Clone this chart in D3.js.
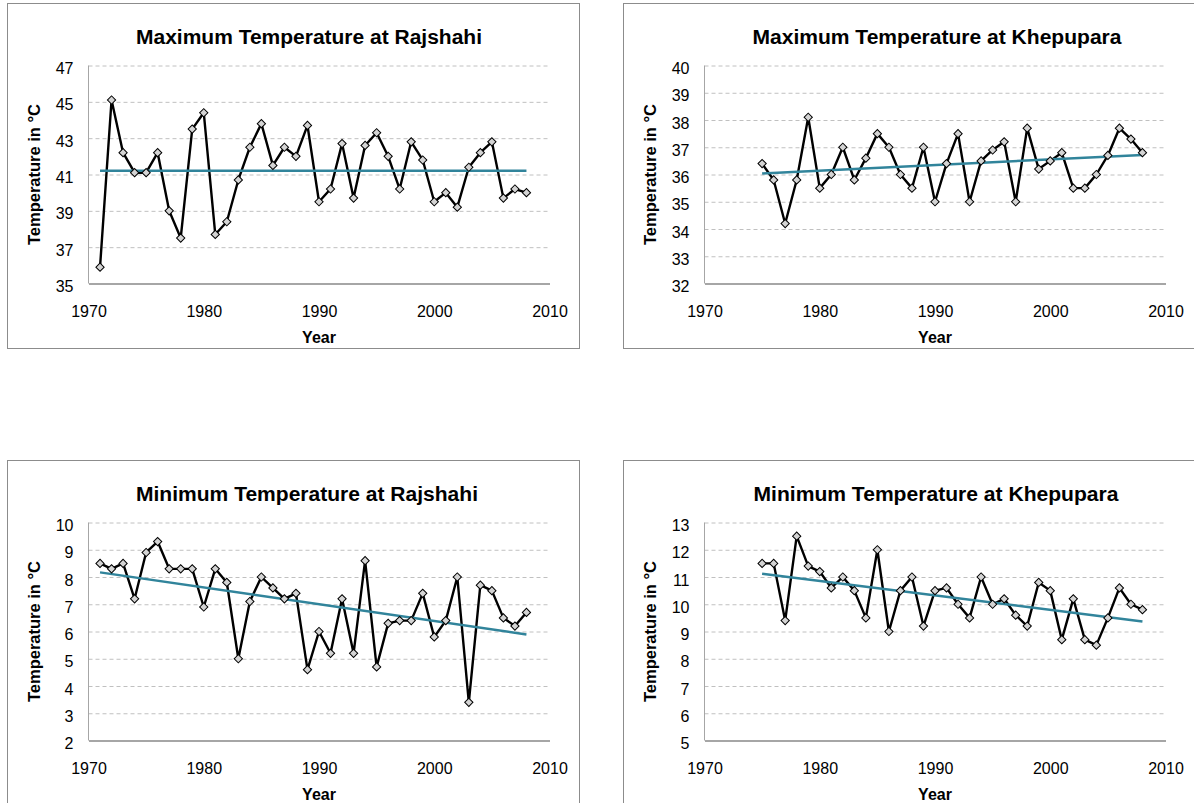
<!DOCTYPE html>
<html>
<head>
<meta charset="utf-8">
<script src="https://cdn.jsdelivr.net/npm/d3@7"></script>
<style>
  body { margin: 0; background: #fff; }
  svg { display: block; font-family: "Liberation Sans", Arial, sans-serif; }
</style>
</head>
<body>
<svg id="canvas" width="1194" height="803"></svg>
<script>
// ---- data ----
var yearsRajshahi = [1971, 1972, 1973, 1974, 1975, 1976, 1977, 1978, 1979, 1980,
  1981, 1982, 1983, 1984, 1985, 1986, 1987, 1988, 1989, 1990,
  1991, 1992, 1993, 1994, 1995, 1996, 1997, 1998, 1999, 2000,
  2001, 2002, 2003, 2004, 2005, 2006, 2007, 2008];
var yearsKhepupara = [1975, 1976, 1977, 1978, 1979, 1980,
  1981, 1982, 1983, 1984, 1985, 1986, 1987, 1988, 1989, 1990,
  1991, 1992, 1993, 1994, 1995, 1996, 1997, 1998, 1999, 2000,
  2001, 2002, 2003, 2004, 2005, 2006, 2007, 2008];

var maxRajshahi = [35.9, 45.1, 42.2, 41.1, 41.1, 42.2, 39.0, 37.5, 43.5, 44.4,
  37.7, 38.4, 40.7, 42.5, 43.8, 41.5, 42.5, 42.0, 43.7, 39.5,
  40.2, 42.7, 39.7, 42.6, 43.3, 42.0, 40.2, 42.8, 41.8, 39.5,
  40.0, 39.2, 41.4, 42.2, 42.8, 39.7, 40.2, 40.0];
var maxKhepupara = [36.4, 35.8, 34.2, 35.8, 38.1, 35.5,
  36.0, 37.0, 35.8, 36.6, 37.5, 37.0, 36.0, 35.5, 37.0, 35.0,
  36.4, 37.5, 35.0, 36.5, 36.9, 37.2, 35.0, 37.7, 36.2, 36.5,
  36.8, 35.5, 35.5, 36.0, 36.7, 37.7, 37.3, 36.8];
var minRajshahi = [8.5, 8.3, 8.5, 7.2, 8.9, 9.3, 8.3, 8.3, 8.3, 6.9,
  8.3, 7.8, 5.0, 7.1, 8.0, 7.6, 7.2, 7.4, 4.6, 6.0,
  5.2, 7.2, 5.2, 8.6, 4.7, 6.3, 6.4, 6.4, 7.4, 5.8,
  6.4, 8.0, 3.4, 7.7, 7.5, 6.5, 6.2, 6.7];
var minKhepupara = [11.5, 11.5, 9.4, 12.5, 11.4, 11.2,
  10.6, 11.0, 10.5, 9.5, 12.0, 9.0, 10.5, 11.0, 9.2, 10.5,
  10.6, 10.0, 9.5, 11.0, 10.0, 10.2, 9.6, 9.2, 10.8, 10.5,
  8.7, 10.2, 8.7, 8.5, 9.5, 10.6, 10.0, 9.8];

// linear trend lines: value at first and last year
var trendMaxRajshahi = [41.2, 41.2];
var trendMaxKhepupara = [36.04, 36.72];
var trendMinRajshahi = [8.17, 5.89];
var trendMinKhepupara = [11.12, 9.37];

var ticksMaxRajshahi = [35, 37, 39, 41, 43, 45, 47];
var ticksMaxKhepupara = [32, 33, 34, 35, 36, 37, 38, 39, 40];
var ticksMinRajshahi = [2, 3, 4, 5, 6, 7, 8, 9, 10];
var ticksMinKhepupara = [5, 6, 7, 8, 9, 10, 11, 12, 13];
var yearTicks = [1970, 1980, 1990, 2000, 2010];

var charts = [
  { title: "Maximum Temperature at Rajshahi", years: yearsRajshahi, values: maxRajshahi,
    trend: trendMaxRajshahi, ticks: ticksMaxRajshahi, fx: 7, fy: 3, fh: 345, titleX: 302, titleW: 346 },
  { title: "Maximum Temperature at Khepupara", years: yearsKhepupara, values: maxKhepupara,
    trend: trendMaxKhepupara, ticks: ticksMaxKhepupara, fx: 623, fy: 3, fh: 345, titleX: 314, titleW: 369 },
  { title: "Minimum Temperature at Rajshahi", years: yearsRajshahi, values: minRajshahi,
    trend: trendMinRajshahi, ticks: ticksMinRajshahi, fx: 7, fy: 460, fh: 400, titleX: 300, titleW: 342 },
  { title: "Minimum Temperature at Khepupara", years: yearsKhepupara, values: minKhepupara,
    trend: trendMinKhepupara, ticks: ticksMinKhepupara, fx: 623, fy: 460, fh: 400, titleX: 313, titleW: 365 }
];

var svg = d3.select("#canvas");
var plot = { left: 81.5, top: 62.5, width: 461, height: 218 };
var fontFamily = '"Liberation Sans", Arial, sans-serif';

charts.forEach(drawChart);

function drawChart(c) {
  var frame = svg.append("g")
      .attr("transform", "translate(" + c.fx + "," + c.fy + ")");

  frame.append("rect")
      .attr("x", 0.5).attr("y", 0.5)
      .attr("width", 572).attr("height", c.fh)
      .attr("fill", "#fff")
      .attr("stroke", "#8c8c8c");

  var x = d3.scaleLinear().domain([1970, 2010]).range([0, plot.width]);
  var y = d3.scaleLinear().domain(d3.extent(c.ticks)).range([plot.height, 0]);

  var g = frame.append("g")
      .attr("transform", "translate(" + plot.left + "," + plot.top + ")");

  // gridlines + y tick labels
  var yAxis = g.append("g")
      .call(d3.axisLeft(y).tickValues(c.ticks).tickSize(-plot.width).tickPadding(15)
        .tickFormat(d3.format("d")))
      .attr("font-family", fontFamily)
      .attr("font-size", 16);
  yAxis.select(".domain").remove();
  yAxis.selectAll(".tick line")
      .attr("stroke", "#c0c0c0")
      .attr("stroke-dasharray", "4,3")
      .filter(function(d) { return d === c.ticks[0]; }).remove();
  yAxis.selectAll(".tick text")
      .attr("dy", "0.5em")
      .attr("fill", "#000");

  // plot-area left edge
  g.append("line")
      .attr("x1", 0).attr("x2", 0)
      .attr("y1", 0).attr("y2", plot.height)
      .attr("stroke", "#a6a6a6");

  // x axis
  var xAxis = g.append("g")
      .attr("transform", "translate(0," + plot.height + ")")
      .call(d3.axisBottom(x).tickValues(yearTicks).tickSize(0).tickPadding(22)
        .tickFormat(d3.format("d")))
      .attr("font-family", fontFamily)
      .attr("font-size", 16);
  xAxis.select(".domain")
      .attr("stroke", "#a6a6a6")
      .attr("stroke-width", 2);
  xAxis.selectAll(".tick text")
      .attr("fill", "#000");

  // series line
  var line = d3.line()
      .x(function(d, i) { return x(c.years[i]); })
      .y(function(d) { return y(d); });

  g.append("path")
      .datum(c.values)
      .attr("fill", "none")
      .attr("stroke", "#000")
      .attr("stroke-width", 2.4)
      .attr("stroke-linejoin", "round")
      .attr("d", line);

  // trend line
  var trendYears = [c.years[0], c.years[c.years.length - 1]];
  g.append("path")
      .datum(c.trend)
      .attr("fill", "none")
      .attr("stroke", "#31849b")
      .attr("stroke-width", 2.5)
      .attr("d", d3.line()
        .x(function(d, i) { return x(trendYears[i]); })
        .y(function(d) { return y(d); }));

  // diamond markers
  var marker = d3.symbol().type(d3.symbolSquare).size(34);
  g.selectAll(".pt")
      .data(c.values)
    .enter().append("path")
      .attr("class", "pt")
      .attr("transform", function(d, i) {
        return "translate(" + x(c.years[i]) + "," + y(d) + ") rotate(45)";
      })
      .attr("d", marker)
      .attr("fill", "#d4d4d4")
      .attr("stroke", "#000")
      .attr("stroke-width", 1);

  // titles
  frame.append("text")
      .attr("x", c.titleX)
      .attr("y", 41)
      .attr("text-anchor", "middle")
      .attr("textLength", c.titleW)
      .attr("lengthAdjust", "spacingAndGlyphs")
      .style("font-size", "19.5px")
      .style("font-weight", "bold")
      .text(c.title);

  frame.append("text")
      .attr("x", plot.left + plot.width / 2)
      .attr("y", plot.top + plot.height + 59)
      .attr("text-anchor", "middle")
      .style("font-size", "16px")
      .style("font-weight", "bold")
      .text("Year");

  frame.append("text")
      .attr("transform", "translate(27," + (plot.top + plot.height / 2) + ") rotate(-90)")
      .attr("text-anchor", "middle")
      .attr("dy", "0.35em")
      .style("font-size", "16.5px")
      .style("font-weight", "bold")
      .text("Temperature in °C");
}
</script>
</body>
</html>
